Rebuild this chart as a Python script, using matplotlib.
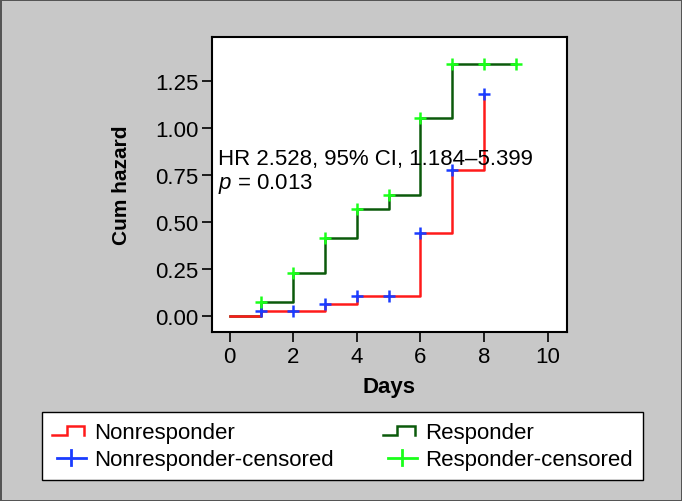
import matplotlib
matplotlib.use("Agg")
import matplotlib.pyplot as plt
import numpy as np
from matplotlib.legend_handler import HandlerBase
from matplotlib.lines import Line2D

plt.rcParams["font.family"] = ["Liberation Sans", "DejaVu Sans"]
plt.rcParams["mathtext.fontset"] = "custom"
plt.rcParams["mathtext.it"] = "Liberation Sans:italic"
plt.rcParams["mathtext.rm"] = "Liberation Sans"

# cumulative hazard by day
days_non = [0, 1, 2, 3, 4, 5, 6, 7, 8]
hazard_non = [0.0, 0.027, 0.027, 0.064, 0.108, 0.108, 0.44, 0.777, 1.18]
days_resp = [0, 1, 2, 3, 4, 5, 6, 7, 8, 9]
hazard_resp = [0.0, 0.076, 0.23, 0.417, 0.571, 0.645, 1.053, 1.337, 1.337, 1.337]

cens_days_non = [1, 2, 3, 4, 5, 6, 7, 8]
cens_haz_non = [0.027, 0.027, 0.064, 0.108, 0.108, 0.44, 0.777, 1.18]
cens_days_resp = [1, 2, 3, 4, 5, 6, 7, 8, 9]
cens_haz_resp = [0.076, 0.23, 0.417, 0.571, 0.645, 1.053, 1.337, 1.337, 1.337]

x_ticks = [0, 2, 4, 6, 8, 10]
y_ticks = [0.0, 0.25, 0.5, 0.75, 1.0, 1.25]

RED = "#ff1a1a"
DARK_GREEN = "#0b5a0b"
BLUE = "#1a3cff"
LIGHT_GREEN = "#1aff1a"


class StepHandler(HandlerBase):
    """Small step shape as legend handle."""

    def create_artists(self, legend, orig_handle, xdescent, ydescent, width, height, fontsize, trans):
        xs = np.array([0.0, 0.45, 0.45, 1.0, 1.0]) * width - xdescent
        ys = np.array([0.2, 0.2, 0.75, 0.75, 0.2]) * height - ydescent
        line = Line2D(xs, ys, color=orig_handle.get_color(), lw=orig_handle.get_linewidth(),
                      solid_joinstyle="miter", transform=trans)
        return [line]


class PlusHandler(HandlerBase):
    """Wide plus sign as legend handle."""

    def create_artists(self, legend, orig_handle, xdescent, ydescent, width, height, fontsize, trans):
        cx = 0.6 * width - xdescent
        cy = 0.45 * height - ydescent
        half_w = 0.45 * width
        half_h = 0.5 * height
        col = orig_handle.get_color()
        h = Line2D([cx - half_w, cx + half_w], [cy, cy], color=col, lw=2, transform=trans)
        v = Line2D([cx, cx], [cy - half_h, cy + half_h], color=col, lw=2, transform=trans)
        return [h, v]


fig = plt.figure(figsize=(6.82, 5.02), dpi=100)
fig.patch.set_facecolor("#c8c8c8")
fig.patch.set_edgecolor("#555555")
fig.patch.set_linewidth(2)

ax = fig.add_axes([0.311, 0.337, 0.52, 0.587])
ax.set_facecolor("white")

resp_line, = ax.step(days_resp, hazard_resp, where="post", color=DARK_GREEN, lw=1.8)
non_line, = ax.step(days_non, hazard_non, where="post", color=RED, lw=1.8)
non_cens, = ax.plot(cens_days_non, cens_haz_non, "+", color=BLUE, ms=9, mew=1.8, ls="none")
resp_cens, = ax.plot(cens_days_resp, cens_haz_resp, "+", color=LIGHT_GREEN, ms=9, mew=1.8, ls="none")

ax.set_xlim(-0.55, 10.6)
ax.set_ylim(-0.082, 1.48)
ax.set_xticks(x_ticks)
ax.set_yticks(y_ticks)
ax.set_yticklabels([f"{v:.2f}" for v in y_ticks])
ax.tick_params(labelsize=16, length=7, width=1.2, direction="out", pad=3)
for s in ax.spines.values():
    s.set_linewidth(1.5)

ax.set_xlabel("Days", fontsize=16, fontweight="bold", labelpad=7)
ax.set_ylabel("Cum hazard", fontsize=15, fontweight="bold", labelpad=17)

ax.text(-0.36, 0.81, "HR 2.528, 95% CI, 1.184\u20135.399", fontsize=16, va="baseline")
ax.text(-0.36, 0.68, "$p$ = 0.013", fontsize=16, va="baseline")

fig.legend(
    [non_line, non_cens, resp_line, resp_cens],
    ["Nonresponder", "Nonresponder-censored", "Responder", "Responder-censored"],
    handler_map={non_line: StepHandler(), resp_line: StepHandler(),
                 non_cens: PlusHandler(), resp_cens: PlusHandler()},
    ncol=2,
    loc="upper left",
    bbox_to_anchor=(42 / 682, 1 - 413 / 502),
    fontsize=16,
    frameon=True,
    fancybox=False,
    edgecolor="black",
    framealpha=1,
    handlelength=1.45,
    handletextpad=0.45,
    columnspacing=2.2,
    borderaxespad=0,
    labelspacing=0.25,
    borderpad=0.45,
)

fig.savefig("out.png", dpi=100, facecolor=fig.get_facecolor(), edgecolor=fig.get_edgecolor())
